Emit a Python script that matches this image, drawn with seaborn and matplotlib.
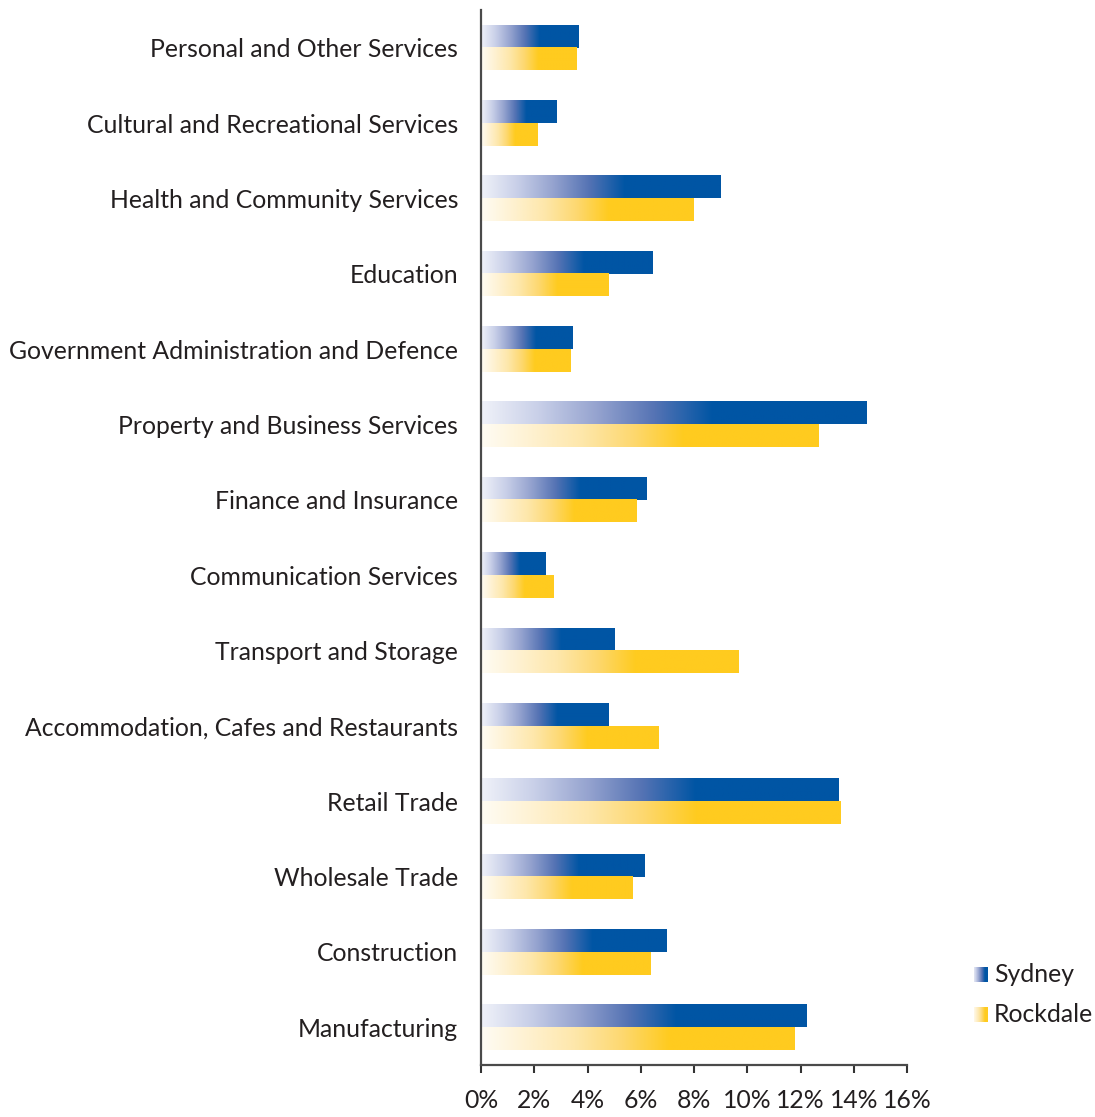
import numpy as np
import pandas as pd
import matplotlib
matplotlib.use("Agg")
import matplotlib.pyplot as plt
from matplotlib.colors import LinearSegmentedColormap, to_rgba
import seaborn as sns

categories = [
    "Personal and Other Services",
    "Cultural and Recreational Services",
    "Health and Community Services",
    "Education",
    "Government Administration and Defence",
    "Property and Business Services",
    "Finance and Insurance",
    "Communication Services",
    "Transport and Storage",
    "Accommodation, Cafes and Restaurants",
    "Retail Trade",
    "Wholesale Trade",
    "Construction",
    "Manufacturing",
]
sydney = [3.65, 2.82, 8.98, 6.43, 3.42, 14.47, 6.20, 2.44, 5.00, 4.77, 13.42, 6.13, 6.95, 12.22]
rockdale = [3.57, 2.14, 8.00, 4.77, 3.35, 12.67, 5.83, 2.74, 9.66, 6.65, 13.50, 5.68, 6.35, 11.77]
series_names = ["Sydney", "Rockdale"]
xticks = [0, 2, 4, 6, 8, 10, 12, 14, 16]
xtick_labels = ["0%", "2%", "4%", "6%", "8%", "10%", "12%", "14%", "16%"]

BLUE = "#0055A4"
YELLOW = "#FFCB1F"

df = pd.DataFrame({
    "Industry": categories * 2,
    "Region": [series_names[0]] * len(categories) + [series_names[1]] * len(categories),
    "Share": sydney + rockdale,
})

sns.set_style("white")
plt.rcParams["font.family"] = ["Lato", "DejaVu Sans"]

blue_cmap = LinearSegmentedColormap.from_list(
    "bl", [(0.0, "#F0F2F9"), (0.15, "#C8CFE8"), (0.30, "#95A3CF"),
           (0.45, "#5573B4"), (0.60, BLUE), (1.0, BLUE)])
yellow_cmap = LinearSegmentedColormap.from_list(
    "yl", [(0.0, "#FFFCF4"), (0.15, "#FEF1D0"), (0.30, "#FEE7AA"),
           (0.45, "#FDD870"), (0.60, YELLOW), (1.0, YELLOW)])

FS = 17.8

fig = plt.figure(figsize=(10.95, 11.17), dpi=100)
ax = fig.add_axes([481 / 1095, 1 - 1065 / 1117, (907 - 481) / 1095, (1065 - 10) / 1117])

sns.barplot(data=df, y="Industry", x="Share", hue="Region", orient="h",
            palette={"Sydney": BLUE, "Rockdale": YELLOW}, width=0.6,
            legend=False, ax=ax, saturation=1)

grad = np.linspace(0, 1, 256).reshape(1, -1)
blue_rgba = to_rgba(BLUE)
for p in list(ax.patches):
    w = p.get_width()
    if w <= 0:
        continue
    x0, y0, h = p.get_x(), p.get_y(), p.get_height()
    fc = p.get_facecolor()
    cmap = blue_cmap if np.allclose(fc[:3], blue_rgba[:3], atol=0.02) else yellow_cmap
    ax.imshow(grad, extent=(x0, x0 + w, y0 + h, y0), cmap=cmap, aspect="auto",
              interpolation="bilinear", zorder=2)
    p.set_facecolor("none")
    p.set_edgecolor("none")

ax.set_xlim(0, 16)
ax.set_ylim(len(categories) - 0.5, -0.5)
ax.set_xlabel("")
ax.set_ylabel("")

ax.set_xticks(xticks)
ax.set_xticklabels(xtick_labels)
ax.set_yticks(range(len(categories)))
ax.set_yticklabels(categories)
ax.set_yticks(np.arange(-0.5, len(categories), 1.0), minor=True)

for s in ["top", "right"]:
    ax.spines[s].set_visible(False)
for s in ["left", "bottom"]:
    ax.spines[s].set_color("#4a4a4a")
    ax.spines[s].set_linewidth(1.6)

ax.tick_params(axis="y", which="major", length=0, pad=16.5, labelsize=FS, labelcolor="#231f20")
ax.tick_params(axis="y", which="minor", length=7, width=1.5, color="#333333", direction="out")
ax.tick_params(axis="x", which="major", length=6, width=1.5, color="#333333", direction="out",
               pad=11, labelsize=FS, labelcolor="#231f20", bottom=True)
ax.grid(False)

# legend
leg_grad = np.linspace(0.05, 0.75, 64).reshape(1, -1)
for name, cmap, ytop in [("Sydney", blue_cmap, 967), ("Rockdale", yellow_cmap, 1007)]:
    lax = fig.add_axes([974 / 1095, 1 - (ytop + 15) / 1117, 14 / 1095, 15 / 1117])
    lax.imshow(leg_grad, cmap=cmap, aspect="auto", interpolation="bilinear", vmin=0, vmax=1)
    lax.axis("off")
    fig.text(994 / 1095, 1 - (ytop + 8) / 1117, name, ha="left", va="center",
             fontsize=FS, color="#231f20")

fig.savefig("out.png", dpi=100, facecolor="white")
